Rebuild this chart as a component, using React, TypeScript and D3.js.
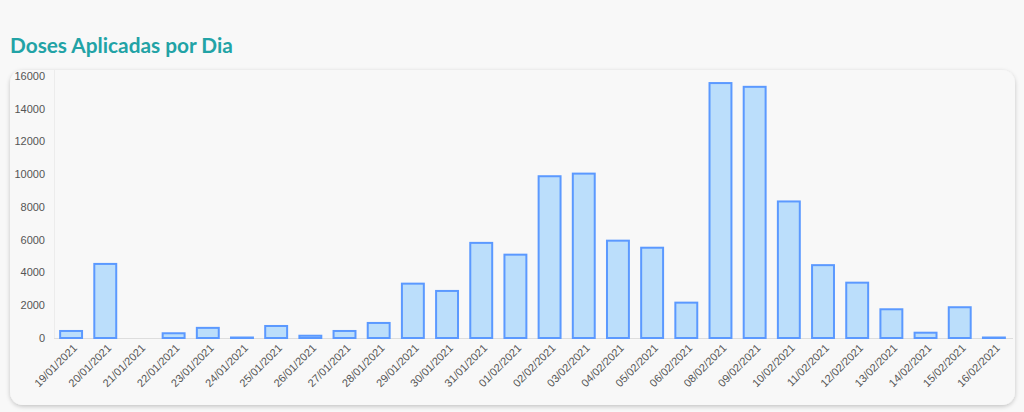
import React from "react";
import * as d3 from "d3";

const dates = [
  "19/01/2021", "20/01/2021", "21/01/2021", "22/01/2021", "23/01/2021", "24/01/2021",
  "25/01/2021", "26/01/2021", "27/01/2021", "28/01/2021", "29/01/2021", "30/01/2021",
  "31/01/2021", "01/02/2021", "02/02/2021", "03/02/2021", "04/02/2021", "05/02/2021",
  "06/02/2021", "08/02/2021", "09/02/2021", "10/02/2021", "11/02/2021", "12/02/2021",
  "13/02/2021", "14/02/2021", "15/02/2021", "16/02/2021",
];
const doses = [
  490, 4585, 0, 350, 680, 70,
  795, 200, 490, 980, 3380, 2935,
  5870, 5150, 9940, 10100, 6005, 5575,
  2220, 15630, 15400, 8400, 4510, 3440,
  1815, 385, 1940, 40,
];
const yTicks = [0, 2000, 4000, 6000, 8000, 10000, 12000, 14000, 16000];
const title = "Doses Aplicadas por Dia";

const W = 1024;
const H = 412;

export default function App() {
  const x = d3
    .scaleBand<string>()
    .domain(dates)
    .range([54, 1011])
    .paddingInner(0.3)
    .paddingOuter(0.15);
  const y = d3.scaleLinear().domain([0, 16000]).range([338, 76]);
  const bw = x.bandwidth();

  return (
    <div style={{ position: "fixed", left: 0, top: 0, width: W, height: H, background: "#f8f8f8" }}>
      <svg width={W} height={H} style={{ display: "block" }}>
        <defs>
          <filter id="shadow" x="-5%" y="-10%" width="110%" height="120%">
            <feDropShadow dx="0" dy="1.5" stdDeviation="2" floodColor="#000" floodOpacity="0.22" />
          </filter>
        </defs>
        <rect x={0} y={0} width={W} height={H} fill="#f8f8f8" />
        <text
          x={10}
          y={53}
          fill="#22a3a6"
          fontFamily="Lato, 'Open Sans', sans-serif"
          fontWeight={700}
          fontSize={20.8}
        >
          {title}
        </text>
        <rect
          x={10}
          y={70}
          width={1005}
          height={335}
          rx={13}
          ry={13}
          fill="#f8f8f8"
          filter="url(#shadow)"
        />
        <line x1={54.5} x2={54.5} y1={70} y2={338} stroke="#ececec" strokeWidth={1} />
        <line x1={54} x2={1013} y1={338.5} y2={338.5} stroke="#dddddd" strokeWidth={1} />
        {yTicks.map((t) => (
          <text
            key={t}
            x={45}
            y={y(t)}
            dy="0.35em"
            textAnchor="end"
            fill="#555"
            fontFamily="'Liberation Sans', Arial, sans-serif"
            fontSize={11}
          >
            {t}
          </text>
        ))}
        {dates.map((d, i) => {
          const v = doses[i];
          if (v <= 0) return null;
          const x0 = (x(d) as number) + 1;
          const top = y(v);
          const h = Math.max(338 - top, 1.5);
          return (
            <rect
              key={d}
              x={x0}
              y={338 - h + 1}
              width={bw - 2}
              height={Math.max(h - 1, 0.5)}
              fill="#bbdefb"
              stroke="#5b99ff"
              strokeWidth={2}
            />
          );
        })}
        {dates.map((d) => {
          const cx = (x(d) as number) + bw / 2 + 4;
          const cy = 346;
          return (
            <text
              key={"l" + d}
              transform={`translate(${cx},${cy}) rotate(-45)`}
              textAnchor="end"
              dy="0.35em"
              fill="#555"
              fontFamily="'Liberation Sans', Arial, sans-serif"
              fontSize={11}
            >
              {d}
            </text>
          );
        })}
      </svg>
    </div>
  );
}
